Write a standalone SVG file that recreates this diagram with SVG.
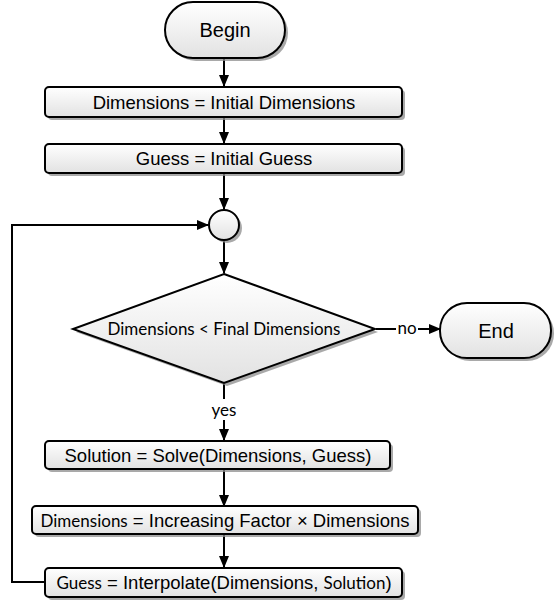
<svg xmlns="http://www.w3.org/2000/svg" width="555" height="607" viewBox="0 0 555 607">
<defs>
<linearGradient id="g" x1="0" y1="0" x2="0" y2="1">
<stop offset="0" stop-color="#ffffff"/>
<stop offset="1" stop-color="#e2e2e2"/>
</linearGradient>
<marker id="ah" markerWidth="12" markerHeight="10" refX="11" refY="5" orient="auto" markerUnits="userSpaceOnUse">
<path d="M0,0 L12,5 L0,10 Z" fill="#000"/>
</marker>
</defs>
<style>
.sh{fill:#8c8c8c;opacity:0.75}
.nd{fill:url(#g);stroke:#000;stroke-width:2}
.t{font-family:"Liberation Sans",Arial,sans-serif;font-size:18.5px;fill:#000;text-anchor:middle}
.c{font-family:Lato,"Open Sans",sans-serif;font-size:17px}
.big{font-size:20px}
.ln{fill:none;stroke:#000;stroke-width:2}
</style>
<rect width="555" height="607" fill="#fff"/>
<g id="connectors">
<line class="ln" x1="224" y1="59" x2="224" y2="86" marker-end="url(#ah)"/>
<line class="ln" x1="224" y1="117" x2="224" y2="143" marker-end="url(#ah)"/>
<line class="ln" x1="224" y1="173" x2="224" y2="209" marker-end="url(#ah)"/>
<line class="ln" x1="224" y1="241" x2="224" y2="273" marker-end="url(#ah)"/>
<line class="ln" x1="224" y1="384" x2="224" y2="399"/>
<line class="ln" x1="224" y1="420" x2="224" y2="440" marker-end="url(#ah)"/>
<line class="ln" x1="224" y1="469" x2="224" y2="506" marker-end="url(#ah)"/>
<line class="ln" x1="224" y1="535" x2="224" y2="567" marker-end="url(#ah)"/>
<line class="ln" x1="376" y1="329" x2="396" y2="329"/>
<line class="ln" x1="418" y1="329" x2="440" y2="329" marker-end="url(#ah)"/>
<polyline class="ln" points="45,582 12,582 12,225 208,225" marker-end="url(#ah)"/>
<text class="t c" x="407" y="334">no</text>
<text class="t c" x="224" y="416">yes</text>
</g>
<g id="begin">
<rect class="sh" x="168" y="5" width="120" height="56" rx="28"/>
<rect class="nd" x="165" y="2" width="120" height="56" rx="28"/>
<text class="t big" x="225" y="37">Begin</text>
</g>
<g id="init-dimensions">
<rect class="sh" x="48" y="90" width="357" height="30" rx="4"/>
<rect class="nd" x="45" y="87" width="357" height="30" rx="4"/>
<text class="t" x="224" y="108.5">Dimensions = Initial Dimensions</text>
</g>
<g id="init-guess">
<rect class="sh" x="48" y="147" width="357" height="29" rx="4"/>
<rect class="nd" x="45" y="144" width="357" height="29" rx="4"/>
<text class="t" x="224" y="165">Guess = Initial Guess</text>
</g>
<g id="junction">
<circle class="sh" cx="227" cy="228" r="15"/>
<circle class="nd" cx="224" cy="225" r="15"/>
</g>
<g id="decision">
<polygon class="sh" points="227,277 378,332 227,386 76,332"/>
<polygon class="nd" points="224,274 375,329 224,383 73,329"/>
<text class="t c" x="224" y="335">Dimensions &lt; Final Dimensions</text>
</g>
<g id="end">
<rect class="sh" x="443" y="306" width="111" height="55" rx="27"/>
<rect class="nd" x="440" y="303" width="111" height="55" rx="27"/>
<text class="t big" x="496" y="338">End</text>
</g>
<g id="solve">
<rect class="sh" x="48" y="444" width="345" height="28" rx="4"/>
<rect class="nd" x="45" y="441" width="345" height="28" rx="4"/>
<text class="t" x="218" y="461.5">Solution = Solve(Dimensions, Guess)</text>
</g>
<g id="increase">
<rect class="sh" x="35" y="509" width="386" height="28" rx="4"/>
<rect class="nd" x="32" y="506" width="386" height="28" rx="4"/>
<text class="t" x="225" y="526.5"><tspan class="c">Dimensions</tspan> = Increasing Factor × Dimensions</text>
</g>
<g id="interpolate">
<rect class="sh" x="48" y="571" width="357" height="29" rx="4"/>
<rect class="nd" x="45" y="568" width="357" height="29" rx="4"/>
<text class="t" x="224" y="589"><tspan class="c">Guess</tspan> = Interpolate(Dimensions, <tspan class="c">Solution</tspan>)</text>
</g>
</svg>
